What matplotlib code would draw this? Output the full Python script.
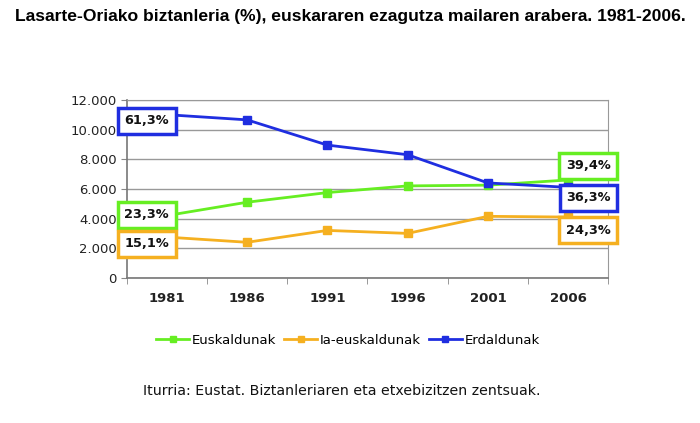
import matplotlib
matplotlib.use("Agg")
import matplotlib.pyplot as plt

years = ["1981", "1986", "1991", "1996", "2001", "2006"]
euskaldunak = [4200, 5100, 5750, 6200, 6250, 6600]
iaeuskaldunak = [2750, 2400, 3200, 3000, 4150, 4100]
erdaldunak = [11000, 10650, 8950, 8300, 6400, 6100]
yticks = [0, 2000, 4000, 6000, 8000, 10000, 12000]
ytick_labels = ["0", "2.000", "4.000", "6.000", "8.000", "10.000", "12.000"]
left_labels = ["23,3%", "15,1%", "61,3%"]
right_labels = ["39,4%", "24,3%", "36,3%"]

c_green = "#66ee22"
c_orange = "#f5b020"
c_blue = "#1f2ee0"

fig = plt.figure(figsize=(7, 4.23), dpi=100)
fig.patch.set_facecolor("white")
ax = fig.add_axes([0.181, 0.343, 0.688, 0.421])
x = list(range(len(years)))

ax.plot(x, euskaldunak, color=c_green, lw=2, marker="s", ms=6, label="Euskaldunak")
ax.plot(x, iaeuskaldunak, color=c_orange, lw=2, marker="s", ms=6, label="Ia-euskaldunak")
ax.plot(x, erdaldunak, color=c_blue, lw=2, marker="s", ms=6, label="Erdaldunak")

ax.set_xlim(-0.5, 5.5)
ax.set_ylim(0, 12000)
ax.set_yticks(yticks)
ax.set_yticklabels(ytick_labels, fontsize=9.5, color="#222222")
ax.set_xticks(x)
ax.set_xticklabels(years, fontsize=9.5, fontweight="bold", color="#222222")
ax.set_xticks([i + 0.5 for i in range(-1, 6)], minor=True)
ax.tick_params(axis="x", which="major", length=0, pad=10)
ax.tick_params(axis="x", which="minor", length=4, color="#888888")
ax.tick_params(axis="y", length=4, color="#888888", pad=3)
ax.grid(axis="y", color="#999999", lw=1)
ax.set_axisbelow(True)
for s in ["top", "right"]:
    ax.spines[s].set_color("#999999")
for s in ["left", "bottom"]:
    ax.spines[s].set_color("#777777")
    ax.spines[s].set_linewidth(1.2)

def box(xd, yd, txt, col):
    ax.text(xd, yd, txt, ha="center", va="center", fontsize=9.3, fontweight="bold",
            color="#111111", zorder=10,
            bbox=dict(boxstyle="square,pad=0.5", fc="white", ec=col, lw=2.5))

box(-0.25, 4250, left_labels[0], c_green)
box(-0.25, 2300, left_labels[1], c_orange)
box(-0.25, 10600, left_labels[2], c_blue)
box(5.25, 7550, right_labels[0], c_green)
box(5.25, 3200, right_labels[1], c_orange)
box(5.25, 5400, right_labels[2], c_blue)

fig.text(0.5, 0.962, "Lasarte-Oriako biztanleria (%), euskararen ezagutza mailaren arabera. 1981-2006.",
         ha="center", va="center", fontsize=12.6, fontweight="bold", family="Liberation Sans")

handles, labels = ax.get_legend_handles_labels()
fig.legend(handles, labels, loc="center", bbox_to_anchor=(0.497, 0.195), ncol=3, frameon=False,
           fontsize=9.5, handlelength=2.5, handletextpad=0.2, columnspacing=0.6,
           markerscale=0.7)

fig.text(0.488, 0.075, "Iturria: Eustat. Biztanleriaren eta etxebizitzen zentsuak.",
         ha="center", va="center", fontsize=10.2, color="#111111")

fig.savefig("out.png", dpi=100)
